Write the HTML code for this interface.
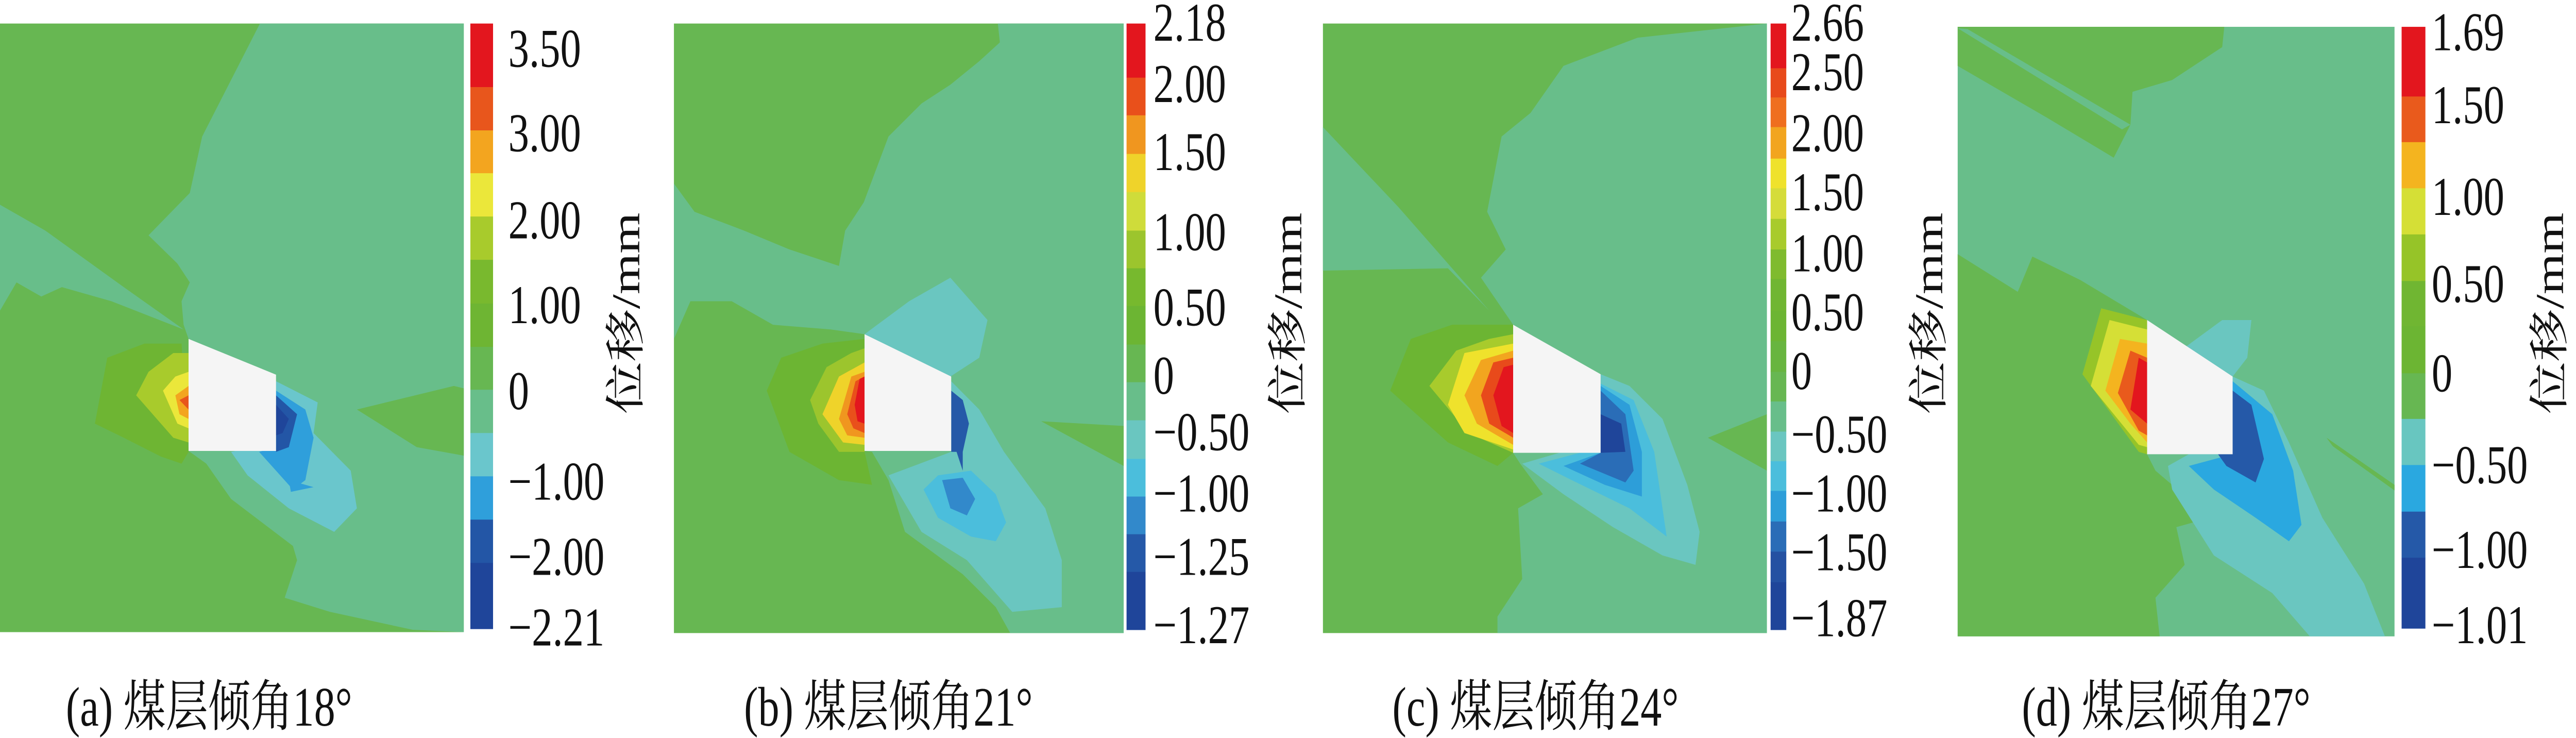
<!DOCTYPE html>
<html><head><meta charset="utf-8">
<style>
html,body{margin:0;padding:0;background:#fff;overflow:hidden;width:100%;height:100%;}
svg{display:block;position:fixed;left:0;top:0;width:100vw;height:100vh;}
text{font-family:"Liberation Serif","Noto Serif CJK SC","Noto Sans CJK SC",serif;fill:#111;}
</style></head>
<body>
<svg id="fig" viewBox="0 0 6568 1432" preserveAspectRatio="none" xmlns="http://www.w3.org/2000/svg">
<rect width="6568" height="1432" fill="#fff"/>

<!-- Panel a -->
<g transform="translate(0,0) scale(1.052,0.9133)">
 <rect x="0" y="50" width="1124" height="1293" fill="#67b752"/>
 <polygon fill="#68be8a" points="630,50 1124,50 1124,1343 1000,1338 800,1300 690,1270 720,1190 710,1160 560,1060 500,985 457,958 457,720 445,690 440,640 460,600 430,560 360,500 460,410 490,290 560,170"/>
 <polygon fill="#68be8a" points="0,435 110,490 300,610 445,700 270,640 150,610 100,630 40,600 0,660"/>
 <polygon fill="#67b752" points="865,870 1100,820 1124,825 1124,968 1010,950"/>
 <polygon fill="#6eb533" points="230,900 260,760 350,730 440,730 457,960 440,985 390,970 300,930"/>
 <polygon fill="#a8cb2c" points="330,840 360,790 420,750 457,750 457,940 420,930"/>
 <polygon fill="#ebe73a" points="395,830 425,800 457,790 457,910 430,900"/>
 <polygon fill="#f3a51f" points="425,840 457,820 457,890 435,880"/>
 <polygon fill="#e8561c" points="435,850 457,840 457,870"/>
 <polygon fill="#6ac6cc" points="560,960 670,940 669,810 770,855 760,920 850,1000 865,1080 810,1130 700,1080 600,1010"/>
 <polygon fill="#2f9fdb" points="628,960 669,950 669,830 740,870 760,930 740,1020 710,1040"/>
 <polygon fill="#2f9fdb" points="700,1020 760,1035 705,1045"/>
 <polygon fill="#2356a6" points="669,840 720,880 700,950 669,960"/>
 <polygon fill="#1f459a" points="669,860 700,890 685,920 669,925"/>
 <polygon fill="#f5f5f5" points="457,720 669,796 669,958 457,958"/>
</g>

<!-- Panel b -->
<g transform="translate(1550,0) scale(1.052,0.9133)">
 <rect x="160" y="50" width="1090" height="1295" fill="#67b752"/>
 <polygon fill="#68be8a" points="945,50 1250,50 1250,1345 975,1345 940,1290 860,1220 720,1130 680,1020 640,960 622,958 622,710 540,700 400,690 300,640 200,640 160,720 160,390 210,450 330,490 440,530 560,565 575,490 620,430 680,290 760,220 830,180 900,130 950,90"/>
 <polygon fill="#67b752" points="1050,895 1250,905 1250,990"/>
 <polygon fill="#6ac6c0" points="622,710 730,640 830,590 920,680 900,760 830,800 760,770"/>
 <polygon fill="#6ac6c0" points="680,1010 832,960 832,810 900,870 960,960 1060,1080 1100,1190 1100,1290 980,1300 870,1190 760,1130"/>
 <polygon fill="#4bbedc" points="765,1040 800,1010 880,1000 940,1050 965,1110 940,1150 880,1140 800,1100"/>
 <polygon fill="#3289cb" points="810,1020 860,1015 890,1060 870,1095 830,1080"/>
 <polygon fill="#2559a8" points="832,830 860,850 875,900 860,960 860,1000 845,960 832,960"/>
 <polygon fill="#6cb533" points="385,830 420,760 520,730 622,720 622,960 640,1030 560,1020 440,960"/>
 <polygon fill="#9cc52d" points="490,850 530,780 590,750 622,740 622,960 560,960 510,900"/>
 <polygon fill="#efd32a" points="520,880 560,800 622,770 622,945 570,940"/>
 <polygon fill="#f0961f" points="560,890 590,800 622,790 622,930 580,925"/>
 <polygon fill="#e9501b" points="580,880 600,810 622,800 622,920 595,910"/>
 <polygon fill="#e3161e" points="598,860 610,805 622,800 622,900 605,895"/>
 <polygon fill="#f5f5f5" points="622,710 832,800 832,958 622,958"/>
</g>

<!-- Panel c -->
<g transform="translate(3250,0) scale(1.052,0.9133)">
 <rect x="117" y="50" width="1076" height="1295" fill="#67b752"/>
 <polygon fill="#68be8a" points="880,80 1193,50 1193,880 1050,930 1193,1000 1193,1345 540,1345 540,1310 600,1230 590,1080 650,1050 595,985 578,962 578,690 500,590 560,530 515,450 550,290 620,240 700,140"/>
 <polygon fill="#68be8a" points="117,270 300,440 520,660 420,570 117,575"/>
 <polygon fill="#6cb533" points="280,830 330,720 430,690 578,690 578,962 540,990 420,940"/>
 <polygon fill="#a8cb2c" points="375,820 440,745 520,720 578,710 578,962 470,920"/>
 <polygon fill="#efe22c" points="420,860 460,750 578,730 578,955 460,920"/>
 <polygon fill="#f2a51f" points="460,840 500,765 578,745 578,945 490,900"/>
 <polygon fill="#e84a1b" points="500,840 530,770 578,760 578,930 520,900"/>
 <polygon fill="#e3161e" points="530,840 555,780 578,775 578,920 550,905"/>
 <polygon fill="#6ac6c0" points="600,985 690,962 790,962 790,795 860,820 940,890 1000,1030 1030,1130 1020,1200 940,1180 820,1120 700,1050"/>
 <polygon fill="#4bbedc" points="640,985 740,962 790,962 790,815 870,850 920,960 950,1140 860,1080 720,1020"/>
 <polygon fill="#2d9ed9" points="700,990 790,962 790,820 860,860 890,960 890,1055 800,1030"/>
 <polygon fill="#2a6db7" points="740,985 790,962 790,830 850,880 870,1000 850,1025"/>
 <polygon fill="#1f459a" points="790,880 840,900 850,960 790,962"/>
 <polygon fill="#f5f5f5" points="578,690 790,795 790,962 578,962"/>
</g>

<!-- Panel d -->
<g transform="translate(4900,0) scale(1.0638,0.9133)">
 <rect x="86" y="57" width="1047" height="1295" fill="#68be8a"/>
 <polygon fill="#67b752" points="86,57 725,57 720,100 600,170 505,195 500,265 460,335 300,250 86,140"/>
 <polygon fill="#68be8a" points="86,60 110,62 500,265 480,275"/>
 <polygon fill="#67b752" points="86,540 230,620 265,545 380,595 540,680 540,965 560,1000 600,1030 650,1110 610,1120 630,1200 560,1270 570,1352 86,1352"/>
 <polygon fill="#67b752" points="970,930 1133,1030 1133,1042 985,948"/>
 <polygon fill="#6ac6c0" points="620,745 720,680 790,680 780,760 745,800"/>
 <polygon fill="#6ac6c0" points="590,990 640,965 745,965 745,800 820,830 880,940 960,1100 1060,1240 1110,1352 930,1352 840,1260 700,1180 600,1040"/>
 <polygon fill="#2aa8e0" points="640,990 745,965 745,810 840,880 890,1000 910,1115 880,1150 800,1100 700,1040"/>
 <polygon fill="#2559a8" points="710,965 745,965 745,830 790,860 820,975 800,1025 730,990"/>
 <polygon fill="#96c428" points="385,795 430,655 540,680 540,965 520,960"/>
 <polygon fill="#d5df36" points="405,820 450,680 540,700 540,950 520,945"/>
 <polygon fill="#f4b41f" points="440,830 475,720 540,730 540,940 500,900"/>
 <polygon fill="#e95a1c" points="470,835 500,745 540,760 540,925 520,915"/>
 <polygon fill="#e3161e" points="500,870 520,760 540,770 540,900"/>
 <polygon fill="#f5f5f5" points="540,680 745,800 745,965 540,965"/>
</g>

<g id="bars"></g>
</svg>

<script>
// Colorbar tick labels
const ticksA = ["3.50","3.00","2.00","1.00","0","\u22121.00","\u22122.00","\u22122.21"];
const ticksB = ["2.18","2.00","1.50","1.00","0.50","0","\u22120.50","\u22121.00","\u22121.25","\u22121.27"];
const ticksC = ["2.66","2.50","2.00","1.50","1.00","0.50","0","\u22120.50","\u22121.00","\u22121.50","\u22121.87"];
const ticksD = ["1.69","1.50","1.00","0.50","0","\u22120.50","\u22121.00","\u22121.01"];
const captions = ["(a) 煤层倾角18°","(b) 煤层倾角21°","(c) 煤层倾角24°","(d) 煤层倾角27°"];
const colorsA = ["#e3161e","#e8561c","#f3a51f","#ebe73a","#a8cb2c","#79b92e","#6eb533","#67b752","#68be8a","#6ac6cc","#2f9fdb","#2356a6","#1f459a"];
const colorsB = ["#e3161e","#e9501b","#f0961f","#efd32a","#cfdc3a","#9cc52d","#77b92e","#6cb533","#67b752","#68be8a","#6ac6c0","#4bbedc","#3289cb","#2559a8","#1f459a"];
const colorsC = ["#e3161e","#e84a1b","#ef6f1f","#f2a51f","#efe22c","#d5dc3a","#a8cb2c","#7fbb2e","#70b632","#6cb533","#68b53f","#67b752","#68be8a","#6ac6c0","#4bbedc","#2d9ed9","#2a6db7","#2451a2","#1f459a"];
const colorsD = ["#e3161e","#e95a1c","#f4b41f","#d5df36","#96c428","#70b632","#6cb533","#67b752","#68c6c0","#2aa8e0","#2559a8","#1f459a"];

const NS="http://www.w3.org/2000/svg";
const bars=document.getElementById('bars');
const fy=0.9133;
const layout=[
 {id:'a',x0:0,fx:1.052,cb:[1140,1195],edges:[50,185,277,368,460,552,645,737,828,920,1012,1104,1196,1336],ty:[100,280,465,645,828,1020,1180,1330],lx:1232,colors:colorsA,ticks:ticksA,cap:168,ylab:1600},
 {id:'b',x0:1550,fx:1.052,cb:[1257,1303],edges:[50,165,245,327,408,490,570,650,732,812,893,975,1055,1135,1215,1338],ty:[45,175,320,490,650,795,915,1045,1180,1325],lx:1322,colors:colorsB,ticks:ticksB,cap:1897,ylab:3288},
 {id:'c',x0:3250,fx:1.052,cb:[1202,1240],edges:[50,145,207,270,337,400,465,530,593,660,725,790,853,917,980,1043,1108,1172,1237,1338],ty:[45,150,280,405,535,660,785,920,1045,1170,1310],lx:1252,colors:colorsC,ticks:ticksC,cap:3550,ylab:4922},
 {id:'d',x0:4900,fx:1.0638,cb:[1150,1207],edges:[57,205,302,400,498,597,693,793,890,988,1087,1185,1335],ty:[65,220,415,600,790,985,1165,1325],lx:1222,colors:colorsD,ticks:ticksD,cap:5155,ylab:6505}
];
layout.forEach((p,pi)=>{
  const g=document.createElementNS(NS,'g');
  
  
  p.colors.forEach((c,i)=>{
    const r=document.createElementNS(NS,'rect');
    
    
    const x1=p.x0+p.cb[0]*p.fx, x2=p.x0+p.cb[1]*p.fx;
    const y1=p.edges[i]*fy, y2=p.edges[i+1]*fy;
    r.setAttribute('x',x1);r.setAttribute('y',y1);
    r.setAttribute('width',x2-x1);r.setAttribute('height',y2-y1+0.5);
    r.setAttribute('fill',c);
    g.appendChild(r);
  });
  p.ticks.forEach((t,i)=>{
    const tx=document.createElementNS(NS,'text');
    
    
    tx.setAttribute('x',p.x0+p.lx*p.fx);
    tx.setAttribute('y',p.ty[i]*fy+38);
    tx.setAttribute('font-size','106');
    tx.textContent=t;
    g.appendChild(tx);
  });
  const yl=document.createElementNS(NS,'text');
  
  
  yl.setAttribute('font-size','102');
  yl.setAttribute('text-anchor','middle');
  yl.setAttribute('transform','translate('+(p.ylab+30)+',608) rotate(-90)');
  yl.textContent='位移/mm';
  g.appendChild(yl);
  const cap=document.createElementNS(NS,'text');
  
  
  cap.setAttribute('x',p.cap);
  cap.setAttribute('y',1408);
  cap.setAttribute('font-size','108');
  cap.textContent=captions[pi];
  g.appendChild(cap);
  bars.appendChild(g);
});
</script>
</body></html>
